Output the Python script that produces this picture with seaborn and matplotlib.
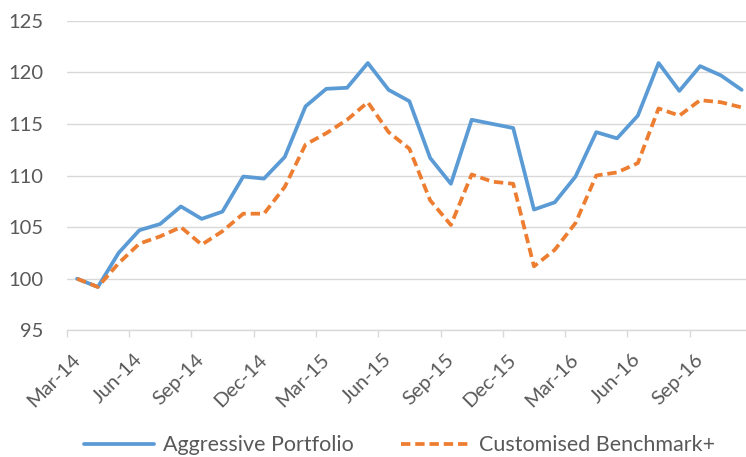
import pandas as pd
import matplotlib
matplotlib.use('Agg')
import matplotlib.pyplot as plt
import seaborn as sns

# monthly index values, Mar-14 .. Nov-16
months = pd.date_range("2014-03-01", "2016-11-01", freq="MS")
aggressive = [100.0, 99.2, 102.5, 104.7, 105.3, 107.0, 105.8, 106.5, 109.9, 109.7, 111.8, 116.7,
              118.4, 118.5, 120.9, 118.3, 117.2, 111.7, 109.2, 115.4, 115.0, 114.6,
              106.7, 107.4, 109.9, 114.2, 113.6, 115.8, 120.9, 118.2, 120.6, 119.7, 118.3]
benchmark = [100.0, 99.2, 101.5, 103.4, 104.1, 105.0, 103.3, 104.6, 106.3, 106.3, 108.9, 113.0,
             114.1, 115.4, 117.1, 114.2, 112.6, 107.6, 105.2, 110.1, 109.4, 109.2,
             101.2, 102.8, 105.4, 110.0, 110.3, 111.2, 116.5, 115.8, 117.3, 117.1, 116.6]
tick_labels = [d.strftime("%b-%y") for d in months[::3]]

BLUE = "#5B9BD5"
ORANGE = "#ED7D31"
GREY_TXT = "#595959"
GRID = "#D9D9D9"

sns.set_style("white")
plt.rcParams['font.family'] = ['Lato', 'DejaVu Sans']

df = pd.DataFrame({"x": range(len(months)), "Aggressive Portfolio": aggressive,
                   "Customised Benchmark+": benchmark})

fig = plt.figure(figsize=(7.46, 4.57), dpi=100)
ax = fig.add_axes([0.0894, 0.2772, 0.9187, 0.6775])

sns.lineplot(data=df, x="x", y="Aggressive Portfolio", ax=ax, color=BLUE, lw=2.7,
             label="Aggressive Portfolio")
sns.lineplot(data=df, x="x", y="Customised Benchmark+", ax=ax, color=ORANGE, lw=2.7,
             label="Customised Benchmark+", dashes=False)
ax.lines[1].set_linestyle((0, (2.5, 1.3)))

ax.set_xlim(-0.5, len(months) - 0.5)
ax.set_ylim(95, 125)
ax.set_yticks(range(95, 126, 5))
ax.grid(axis="y", color=GRID, lw=1)
ax.set_axisbelow(True)
ax.set_xlabel("")
ax.set_ylabel("")

# labels at month centres, tick marks at month boundaries
ax.set_xticks(range(0, len(months), 3))
ax.set_xticklabels(tick_labels, rotation=45, ha="right", va="center",
                   rotation_mode="anchor")
ax.set_xticks([i - 0.5 for i in range(0, len(months), 3)], minor=True)
ax.tick_params(axis="x", which="major", length=0, pad=19, labelsize=14.5, colors=GREY_TXT)
ax.tick_params(axis="x", which="minor", length=5, width=1, color=GRID, direction="out")
ax.tick_params(axis="x", which="minor", bottom=True)
ax.tick_params(axis="y", length=0, pad=17, labelsize=14.5, colors=GREY_TXT)

for s in ["top", "right", "left"]:
    ax.spines[s].set_visible(False)
ax.spines["bottom"].set_color(GRID)
ax.spines["bottom"].set_linewidth(1)

ax.get_legend().remove()
handles, labels = ax.get_legend_handles_labels()
fig.legend(handles, labels, loc="center", bbox_to_anchor=(0.536, 0.026), ncol=2,
           frameon=False, fontsize=15.5, handlelength=3.25, handletextpad=0.4,
           columnspacing=2.2, labelcolor=GREY_TXT)

fig.savefig("out.png", dpi=100)
